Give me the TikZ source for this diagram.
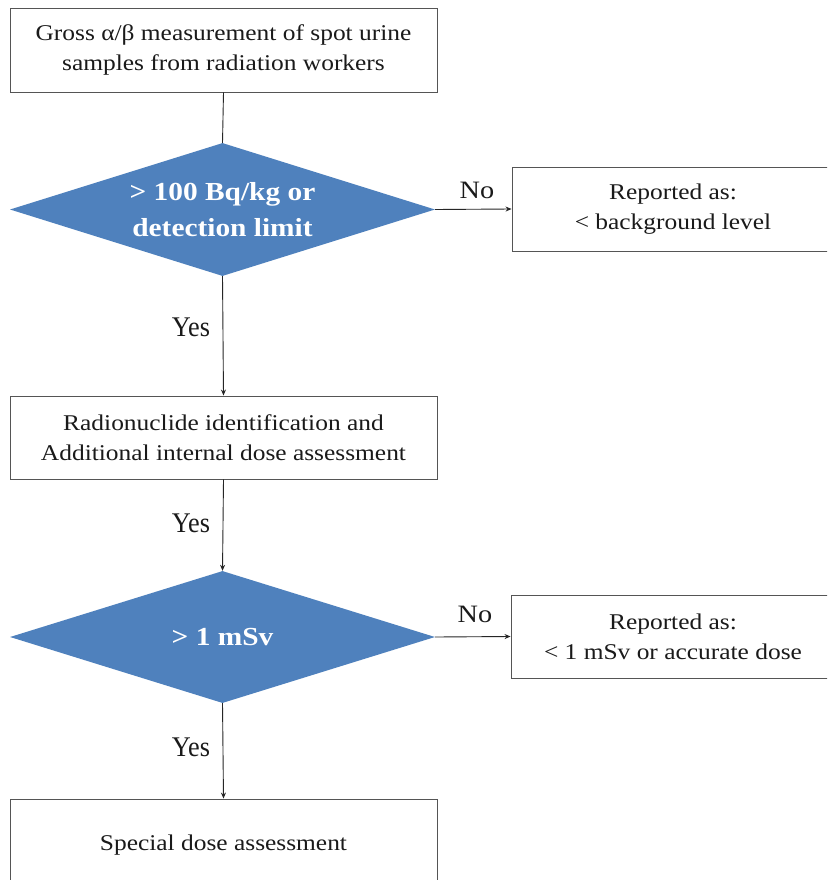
\documentclass[tikz,border=0pt]{standalone}
\usepackage{fontspec}
\setmainfont{Liberation Serif}
\newfontfamily\boxfont[FakeStretch=1.13]{Liberation Serif}
\newfontfamily\yesfont[FakeStretch=0.92]{Liberation Serif}
\usetikzlibrary{shapes.geometric,arrows.meta}
\definecolor{dblue}{HTML}{4F81BD}
\definecolor{txt}{HTML}{1A1A1A}
\definecolor{edge}{HTML}{555555}
\tikzset{
  procbox/.style={draw=edge, line width=0.9pt, fill=white, rectangle, inner sep=0pt, align=center,
    text=txt, font=\boxfont\fontsize{22.5pt}{30pt}\selectfont},
  decision/.style={diamond, aspect=3.2, fill=dblue, draw=none, inner sep=0pt, align=center, text=white,
    font=\boxfont\bfseries\fontsize{26pt}{36pt}\selectfont},
  conn/.style={draw=black!85, line width=0.9pt},
  arr/.style={conn, -{Stealth[length=6pt,width=5pt]}},
  nolab/.style={text=txt, inner sep=0pt, font=\boxfont\fontsize{25pt}{30pt}\selectfont},
  yeslab/.style={text=txt, inner sep=0pt, font=\yesfont\fontsize{28.5pt}{30pt}\selectfont}
}
\begin{document}
\begin{tikzpicture}[x=1pt,y=-1pt]
\clip (0,0) rectangle (827,880);
\fill[white] (0,0) rectangle (827,880);

\node[procbox, minimum width=427pt, minimum height=84pt] (b1) at (223.5,50)
  {Gross α/β measurement of spot urine\\samples from radiation workers};
\node[decision, minimum width=425pt, minimum height=133pt] (d1) at (222.5,209.5)
  {> 100 Bq/kg or\\detection limit};
\node[procbox, minimum width=322pt, minimum height=84pt] (r1) at (673,209)
  {Reported as:\\< background level};
\node[procbox, minimum width=427pt, minimum height=83pt] (b2) at (223.5,437.5)
  {Radionuclide identification and\\Additional internal dose assessment};
\node[decision, minimum width=425pt, minimum height=132pt] (d2) at (222.5,637)
  {> 1 mSv};
\node[procbox, minimum width=324pt, minimum height=83pt] (r2) at (673,636.5)
  {Reported as:\\< 1 mSv or accurate dose};
\node[procbox, minimum width=427pt, minimum height=92pt] (b3) at (223.5,845)
  {Special dose assessment};

\draw[conn] (b1.south) -- (d1.north);
\draw[arr] (d1.east) -- (r1.west);
\draw[arr] (d1.south) -- (b2.north);
\draw[arr] (b2.south) -- (d2.north);
\draw[arr] (d2.east) -- (r2.west);
\draw[arr] (d2.south) -- (b3.north);

\node[nolab] (no1) at (477,190) {No};
\node[nolab] (no2) at (475,614) {No};
\node[yeslab] (yes1) at (191,327) {Yes};
\node[yeslab] (yes2) at (191,523) {Yes};
\node[yeslab] (yes3) at (191,747) {Yes};
\end{tikzpicture}
\end{document}
